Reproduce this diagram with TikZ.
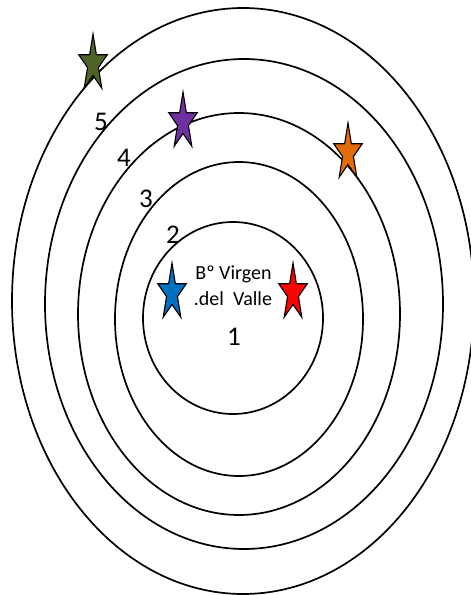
\documentclass[tikz,border=0pt]{standalone}
\usepackage{fontspec}
\setmainfont{Carlito}
\begin{document}
\begin{tikzpicture}[x=1pt,y=-1pt,
  ring/.style={line width=1.7pt},
  numlabel/.style={anchor=base,inner sep=0pt,font=\fontsize{27}{30}\selectfont},
  placelabel/.style={anchor=base,inner sep=0pt,font=\fontsize{20}{26}\selectfont},
  pics/mystar/.style={code={
    \draw[fill=#1,line width=1.1pt,line join=miter]
      (90:15 and 30)
      \foreach \k in {1,...,9}{ -- ({90+36*\k}:{ifthenelse(mod(\k,2)==1,0.382,1)*15} and {ifthenelse(mod(\k,2)==1,0.382,1)*30}) } -- cycle;
  }}]
\useasboundingbox (0,0) rectangle (471,595);
% rings
\draw[ring] (243,301) ellipse [x radius=231, y radius=293];
\draw[ring] (244,304) ellipse [x radius=199, y radius=245];
\draw[ring] (239,314) ellipse [x radius=161, y radius=201];
\draw[ring] (239,319) ellipse [x radius=124, y radius=157];
\draw[ring] (233,318) ellipse [x radius=90, y radius=96];
% labels
\node[numlabel] (n5) at (101,130) {5};
\node[numlabel] (n4) at (124,166) {4};
\node[numlabel] (n3) at (146,207) {3};
\node[numlabel] (n2) at (173,243) {2};
\node[numlabel] (n1) at (234,345) {1};
\node[placelabel] (pa) at (233.5,279) {Bº Virgen};
\node[placelabel] (pb) at (233,305) {.del\ \ Valle};
% stars (y axis points down, so flip)
\definecolor{stargreen}{HTML}{4F6228}
\definecolor{starpurple}{HTML}{7030A0}
\definecolor{starorange}{HTML}{E36C09}
\definecolor{starblue}{HTML}{0070C0}
\definecolor{starred}{HTML}{FF0000}
\pic[yscale=-1] at (93,64) {mystar=stargreen};
\pic[yscale=-1] at (183,122) {mystar=starpurple};
\pic[yscale=-1] at (348,153) {mystar=starorange};
\pic[yscale=-1] at (172,293) {mystar=starblue};
\pic[yscale=-1] at (293,293) {mystar=starred};
\end{tikzpicture}
\end{document}
